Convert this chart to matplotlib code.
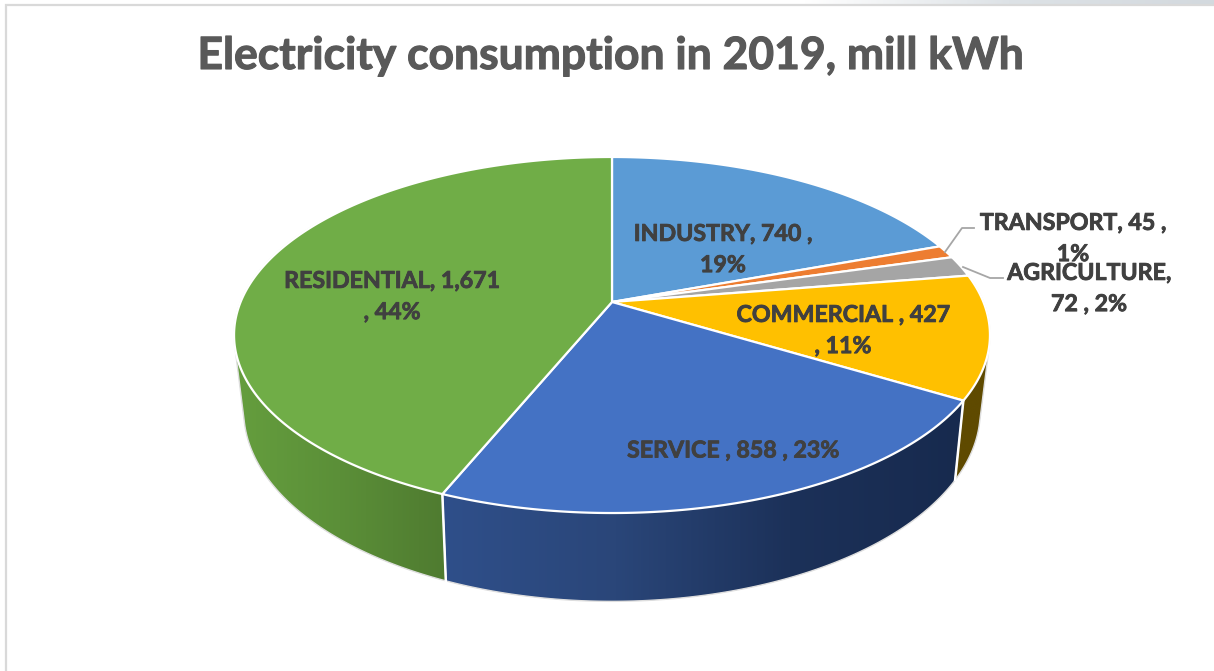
import numpy as np
import matplotlib
matplotlib.use("Agg")
import matplotlib.pyplot as plt
import matplotlib.patheffects as pe
from matplotlib.colors import LinearSegmentedColormap
from matplotlib.patches import Polygon

plt.rcParams['font.family'] = ['Lato', 'DejaVu Sans']

# ----------------------------- DATA
categories = ['INDUSTRY', 'TRANSPORT', 'AGRICULTURE', 'COMMERCIAL', 'SERVICE', 'RESIDENTIAL']
values = [740, 45, 72, 427, 858, 1671]
labels = ['INDUSTRY, 740 ,\n19%', 'TRANSPORT, 45 ,\n1%', 'AGRICULTURE,\n72 , 2%',
          'COMMERCIAL , 427\n, 11%', 'SERVICE , 858 , 23%', 'RESIDENTIAL, 1,671\n, 44%']
colors = ['#5B9BD5', '#ED7D31', '#A5A5A5', '#FFC000', '#4472C4', '#70AD47']
title = 'Electricity consumption in 2019, mill kWh'

# ----------------------------- LAYOUT (figure pixels, y down)
label_pos = [(723, 250), (1073, 239), (1089, 289), (843, 331), (733, 451), (392, 297)]
top_disc = dict(cx=612, cy=302, r=371.4, s=171.9, k=0.1854)
low_disc = dict(cx=612, cy=374.4, r=361.5, s=183.6, k=0.191)

# wall shading per slice, left to right across the wall
wall_colors = {'COMMERCIAL': ['#5F4A00', '#5F4A00'],
               'SERVICE': ['#2F4F8A', '#2A4679', '#1C3159', '#172A4E'],
               'RESIDENTIAL': ['#659E3E', '#5B8F38', '#4F7B30']}


def rim(theta, d):
    # perspective projection of a tilted circle, theta clockwise from the top
    w = 1 + d['k'] * np.cos(theta)
    return d['cx'] + d['r'] * np.sin(theta) / w, d['cy'] - d['s'] * np.cos(theta) / w


def hull(pts):
    # monotone chain, keeps the straight tangent between the two rims
    pts = sorted(map(tuple, pts))

    def half(seq):
        out = []
        for p in seq:
            while len(out) > 1 and ((out[-1][0] - out[-2][0]) * (p[1] - out[-2][1])
                                    - (out[-1][1] - out[-2][1]) * (p[0] - out[-2][0])) <= 0:
                out.pop()
            out.append(p)
        return out[:-1]

    return np.array(half(pts) + half(pts[::-1]))


fig = plt.figure(figsize=(12.14, 6.71), dpi=100)
ax = fig.add_axes([0, 0, 1, 1])
ax.set_xlim(0, 1214)
ax.set_ylim(671, 0)
ax.axis('off')

# ----------------------------- FRAME
strip = LinearSegmentedColormap.from_list('strip', ['#FFFFFF', '#FFFFFF', '#DDE2E6', '#D3D9DE'])
ax.imshow(np.linspace(0, 1, 256)[None, :], cmap=strip, extent=(600, 1214, 4, 0), aspect='auto', zorder=0)
ax.plot([6, 6, 1214], [671, 5, 5], color='#D9D9D9', lw=1.6, zorder=1, solid_joinstyle='miter')

# ----------------------------- SLICE ANGLES
edges = np.cumsum([0] + values) / sum(values) * 2 * np.pi

# ----------------------------- WALLS
for i, name in enumerate(categories):
    if name not in wall_colors:
        continue
    # residential wraps round the back, no need to follow it past the left side
    t = np.linspace(edges[i], min(edges[i + 1], np.deg2rad(300)), 200)
    xt, yt = rim(t, top_disc)
    xb, yb = rim(t, low_disc)
    pts = hull(np.column_stack([np.r_[xt, xb], np.r_[yt, yb]]))
    z = 2 + i * 0.1
    # outline and fill share a level so the next wall paints over this outline
    poly = Polygon(pts, closed=True, facecolor='none', edgecolor='#DEDEDE', lw=1.0, zorder=z + 0.01)
    ax.add_patch(poly)
    cmap = LinearSegmentedColormap.from_list(name, wall_colors[name])
    x_lo, x_hi = pts[:, 0].min(), pts[:, 0].max()
    y_lo, y_hi = pts[:, 1].min(), pts[:, 1].max()
    im = ax.imshow(np.linspace(0, 1, 256)[None, :], cmap=cmap, aspect='auto',
                   extent=(x_lo, x_hi, y_hi, y_lo), zorder=z, interpolation='bilinear')
    im.set_clip_path(poly)
    # white seam up the near edge of the slice
    if edges[i + 1] < np.deg2rad(300):
        xa, ya = rim(edges[i + 1], top_disc)
        xc, yc = rim(edges[i + 1], low_disc)
        ax.plot([xa, xc], [ya, yc], color='white', lw=1.8, zorder=3)

# ----------------------------- TOP FACE
apex = (top_disc['cx'], top_disc['cy'])
for i, c in enumerate(colors):
    t = np.linspace(edges[i], edges[i + 1], 300)
    x, y = rim(t, top_disc)
    pts = np.column_stack([np.r_[apex[0], x], np.r_[apex[1], y]])
    ax.add_patch(Polygon(pts, closed=True, facecolor=c, edgecolor='white', lw=1.6,
                         joinstyle='round', zorder=4))

# ----------------------------- LEADER LINES
ax.plot([945, 962, 974], [252, 228, 228], color='#A6A6A6', lw=1.3, zorder=5)
ax.plot([963, 990, 1003], [267, 278, 278], color='#A6A6A6', lw=1.3, zorder=5)

# ----------------------------- TEXT
for lab, (lx, ly) in zip(labels, label_pos):
    ax.text(lx, ly, lab, ha='center', va='center', fontsize=16.7, fontweight='bold',
            color='#404040', linespacing=1.6, zorder=6,
            path_effects=[pe.withStroke(linewidth=0.6, foreground='#404040')])
ax.text(611, 56, title, ha='center', va='center', fontsize=32, fontweight='bold',
        color='#595959', zorder=6,
        path_effects=[pe.withStroke(linewidth=0.8, foreground='#595959')])

fig.savefig('out.png', dpi=100)
